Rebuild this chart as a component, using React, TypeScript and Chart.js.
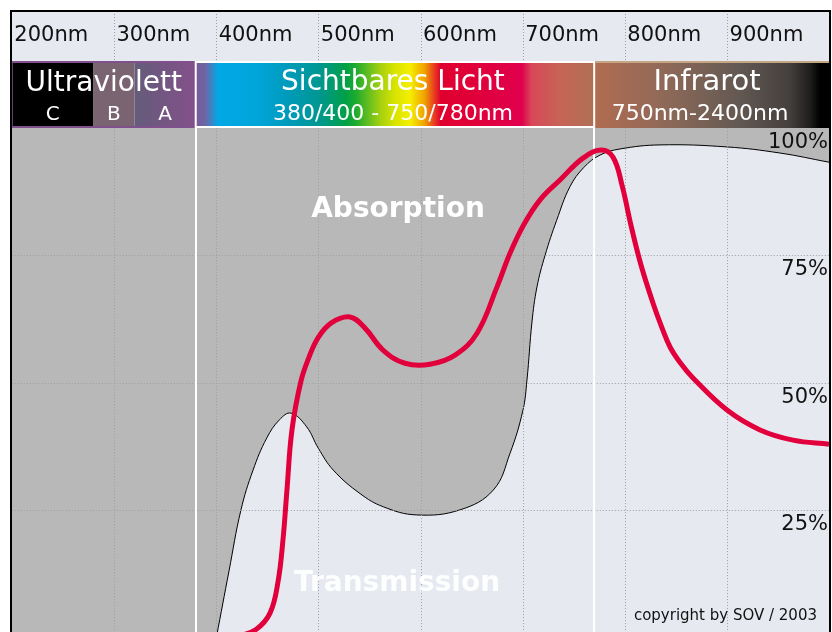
import React, { useEffect, useRef } from "react";
import { Chart, registerables } from "chart.js";

Chart.register(...registerables);

// Wavelength axis ticks (nm)
const axisTicks = [200, 300, 400, 500, 600, 700, 800, 900];
const percentTicks = [100, 75, 50, 25];

// Transmission of the eye media (black curve, %)
const transWavelengths = [400.3, 412.6, 424.3, 436.1, 449.5, 462.0, 473.3, 488.6, 500.0, 514.7, 540.8, 563.6, 596.3, 638.7, 671.3, 687.6, 700.3, 704.2, 709.1, 714.0, 721.9, 733.3, 746.3, 760.0, 775.7, 795.3, 834.4, 900.0, 951.9, 999.8];
const transValues = [0, 13.0, 25.0, 32.8, 39.1, 42.7, 44.0, 41.3, 37.1, 32.8, 28.2, 25.6, 24.0, 25.0, 28.9, 36.1, 44.6, 50.5, 61.9, 68.8, 75.0, 81.9, 88.5, 92.3, 94.7, 95.9, 96.7, 96.3, 95.1, 93.3];

// UV range: no transmission (fully absorbed)
const uvWavelengths = [200, 401];
const uvValues = [0, 0];

// Red curve (%)
const redWavelengths = [419.4, 439.0, 452.7, 460.5, 465.4, 469.3, 474.2, 483.0, 490.9, 499.7, 512.4, 531.0, 545.7, 563.3, 584.8, 609.3, 633.8, 655.3, 674.9, 687.6, 701.3, 717.0, 736.5, 759.0, 776.7, 788.4, 797.2, 806.0, 815.8, 827.6, 835.9, 844.2, 855.0, 866.7, 900.0, 932.3, 964.6, 999.8];
const redValues = [0, 1.5, 4.7, 10.8, 19.1, 28.9, 40.7, 50.3, 55.0, 58.8, 61.7, 62.9, 60.7, 56.4, 53.8, 53.6, 55.4, 59.7, 68.8, 75.4, 81.1, 85.9, 89.8, 94.1, 95.7, 94.3, 88.8, 80.9, 73.1, 65.6, 61.0, 57.0, 53.7, 50.9, 44.6, 40.7, 38.7, 37.9];

// Spectral band boundaries (nm)
const uvStart = 200;
const uvcEnd = 280;
const uvbEnd = 320;
const visStart = 380;
const irStart = 770;
const axisEnd = 1000;

const FONT = "'DejaVu Sans', Verdana, sans-serif";
const LIGHT = "#e7e9f1";
const GRAY = "#b8b8b8";
const GRID = "#9e9e9e";

const visStops: [number, string][] = [
  [0.0, "#7c5894"], [0.026, "#6a68a8"], [0.056, "#00a8e6"], [0.161, "#00a4d8"],
  [0.237, "#009ab8"], [0.312, "#00978f"], [0.375, "#00a048"], [0.4, "#1aaa30"],
  [0.463, "#a4d010"], [0.5, "#d8e400"], [0.538, "#f5ef00"], [0.575, "#f0a000"],
  [0.598, "#e84020"], [0.615, "#e0002e"], [0.713, "#e0003c"], [0.818, "#e0004e"],
  [0.843, "#d84858"], [0.914, "#c66456"], [1.0, "#b07056"],
];
const irStops: [number, string][] = [
  [0.0, "#b06c50"], [0.19, "#9c6a56"], [0.33, "#8a6858"], [0.62, "#625852"],
  [0.83, "#44403e"], [0.92, "#1e1c1c"], [0.96, "#000000"], [1.0, "#000000"],
];

const HEAD_TOP = 11;
const BAND_TOP = 61;
const BAND_BOTTOM = 128;

const toPoints = (xs: number[], ys: number[]) => xs.map((x, i) => ({ x, y: ys[i] }));

export default function App() {
  const ref = useRef<HTMLCanvasElement>(null);

  useEffect(() => {
    document.body.style.margin = "0";
    document.body.style.overflow = "hidden";
    const canvas = ref.current!;

    const plugin = {
      id: "spectrum",
      beforeDraw(chart: any) {
        const { ctx, chartArea, scales } = chart;
        const x0 = scales.x.getPixelForValue(uvStart);
        const x1 = scales.x.getPixelForValue(axisEnd);
        ctx.save();
        ctx.fillStyle = "#ffffff";
        ctx.fillRect(0, 0, chart.width, chart.height);
        ctx.fillStyle = LIGHT;
        ctx.fillRect(x0, HEAD_TOP, x1 - x0, BAND_TOP - HEAD_TOP);
        ctx.fillRect(chartArea.left, chartArea.top, chartArea.right - chartArea.left, chartArea.bottom - chartArea.top);
        ctx.restore();
      },
      afterDatasetDraw(chart: any, args: any) {
        if (args.index !== 1) return;
        const { ctx, chartArea, scales } = chart;
        const xs = scales.x, ys = scales.y;
        ctx.save();
        ctx.strokeStyle = GRID;
        ctx.lineWidth = 1;
        ctx.setLineDash([1, 2]);
        for (const t of axisTicks) {
          if (t === uvStart) continue;
          const x = Math.round(xs.getPixelForValue(t)) + 0.5;
          ctx.beginPath();
          ctx.moveTo(x, chartArea.top);
          ctx.lineTo(x, chartArea.bottom);
          ctx.stroke();
        }
        for (const p of percentTicks) {
          if (p === 100) continue;
          const y = Math.round(ys.getPixelForValue(p)) + 0.5;
          ctx.beginPath();
          ctx.moveTo(chartArea.left, y);
          ctx.lineTo(chartArea.right, y);
          ctx.stroke();
        }
        ctx.setLineDash([]);
        ctx.strokeStyle = "#ffffff";
        ctx.lineWidth = 2;
        for (const b of [visStart, irStart]) {
          const x = Math.round(xs.getPixelForValue(b));
          ctx.beginPath();
          ctx.moveTo(x, chartArea.top);
          ctx.lineTo(x, chartArea.bottom);
          ctx.stroke();
        }
        ctx.font = `bold 28px ${FONT}`;
        ctx.textAlign = "center";
        ctx.textBaseline = "alphabetic";
        ctx.fillStyle = "#ffffff";
        ctx.fillText("Absorption", 398, 217);
        ctx.fillStyle = "rgba(255,255,255,0.92)";
        ctx.fillText("Transmission", 397, 591);
        ctx.restore();
      },
      afterDraw(chart: any) {
        const { ctx, scales } = chart;
        const xs = scales.x, ys = scales.y;
        const px = (v: number) => xs.getPixelForValue(v);
        ctx.save();
        ctx.strokeStyle = GRID;
        ctx.lineWidth = 1;
        ctx.setLineDash([1, 2]);
        for (const t of axisTicks) {
          if (t === uvStart) continue;
          const x = Math.round(px(t)) + 0.5;
          ctx.beginPath();
          ctx.moveTo(x, HEAD_TOP);
          ctx.lineTo(x, BAND_TOP);
          ctx.stroke();
        }
        ctx.setLineDash([]);
        ctx.fillStyle = "#111111";
        ctx.font = `21px ${FONT}`;
        ctx.textAlign = "left";
        ctx.textBaseline = "alphabetic";
        for (const t of axisTicks) {
          ctx.fillText(`${t}nm`, px(t) + 2.5, 41);
        }

        const bh = BAND_BOTTOM - BAND_TOP;
        const uv0 = px(uvStart), uvc = px(uvcEnd), uvb = px(uvbEnd), uv1 = px(visStart);
        ctx.fillStyle = "#000000";
        ctx.fillRect(uv0, BAND_TOP, uvc - uv0, bh);
        ctx.fillStyle = "#7a6472";
        ctx.fillRect(uvc, BAND_TOP, uvb - uvc, bh);
        const gA = ctx.createLinearGradient(uvb, 0, uv1, 0);
        gA.addColorStop(0, "#645c7a");
        gA.addColorStop(1, "#84508a");
        ctx.fillStyle = gA;
        ctx.fillRect(uvb, BAND_TOP, uv1 - uvb, bh);
        ctx.strokeStyle = "#80508c";
        ctx.lineWidth = 2;
        ctx.strokeRect(uv0, BAND_TOP + 1, uv1 - uv0 - 1, bh - 2);

        const v0 = px(visStart), v1 = px(irStart);
        const gV = ctx.createLinearGradient(v0, 0, v1, 0);
        for (const [o, c] of visStops) gV.addColorStop(o, c);
        ctx.fillStyle = gV;
        ctx.fillRect(v0, BAND_TOP, v1 - v0, bh);
        ctx.strokeStyle = "#ffffff";
        ctx.strokeRect(v0, BAND_TOP + 1, v1 - v0, bh - 2);

        const i0 = px(irStart) + 1, i1 = px(axisEnd);
        const gI = ctx.createLinearGradient(i0, 0, i1, 0);
        for (const [o, c] of irStops) gI.addColorStop(o, c);
        ctx.fillStyle = gI;
        ctx.fillRect(i0, BAND_TOP, i1 - i0, bh);
        ctx.strokeStyle = "#c4a684";
        ctx.beginPath();
        ctx.moveTo(i0, BAND_TOP + 1);
        ctx.lineTo(i1, BAND_TOP + 1);
        ctx.stroke();

        ctx.fillStyle = "#ffffff";
        ctx.textAlign = "center";
        ctx.font = `28px ${FONT}`;
        ctx.fillText("Ultraviolett", (uv0 + uv1) / 2, 91);
        ctx.fillText("Sichtbares Licht", (v0 + v1) / 2 - 2, 90);
        ctx.font = `29px ${FONT}`;
        ctx.fillText("Infrarot", 707, 90);
        ctx.font = `20px ${FONT}`;
        ctx.fillText("C", (uv0 + uvc) / 2, 120);
        ctx.fillText("B", (uvc + uvb) / 2, 120);
        ctx.fillText("A", (uvb + uv1) / 2, 120);
        ctx.font = `22px ${FONT}`;
        ctx.fillText("380/400 - 750/780nm", (v0 + v1) / 2 - 2, 120);
        ctx.fillText("750nm-2400nm", 700, 120);

        ctx.fillStyle = "#111111";
        ctx.font = `21px ${FONT}`;
        ctx.textAlign = "right";
        for (const p of percentTicks) {
          ctx.fillText(`${p}%`, 828, ys.getPixelForValue(p) + 20);
        }

        ctx.font = `15px ${FONT}`;
        ctx.fillText("copyright by SOV / 2003", 817, 620);

        ctx.strokeStyle = "#000000";
        ctx.lineWidth = 2;
        ctx.beginPath();
        ctx.moveTo(11, chart.height + 2);
        ctx.lineTo(11, 11);
        ctx.lineTo(830, 11);
        ctx.lineTo(830, chart.height + 2);
        ctx.stroke();
        ctx.restore();
      },
    };

    const chart = new Chart(canvas, {
      type: "line",
      data: {
        datasets: [
          {
            label: "Empfindlichkeit",
            data: toPoints(redWavelengths, redValues),
            borderColor: "#e2003c",
            borderWidth: 5,
            pointRadius: 0,
            fill: false,
            tension: 0.4,
          },
          {
            label: "Transmission",
            data: toPoints(transWavelengths, transValues),
            borderColor: "#000000",
            borderWidth: 1,
            backgroundColor: GRAY,
            pointRadius: 0,
            fill: "end",
            tension: 0.4,
          },
          {
            label: "UV",
            data: toPoints(uvWavelengths, uvValues),
            borderWidth: 0,
            borderColor: GRAY,
            backgroundColor: GRAY,
            pointRadius: 0,
            fill: "end",
            tension: 0,
          },
        ],
      },
      options: {
        responsive: false,
        animation: false,
        events: [],
        layout: { padding: { left: 11.8, right: 2.8, top: 128.1, bottom: 0 } },
        elements: { line: { capBezierPoints: false } },
        scales: {
          x: { type: "linear", min: uvStart, max: axisEnd, display: false },
          y: { type: "linear", min: 1, max: 100, display: false },
        },
        plugins: { legend: { display: false }, tooltip: { enabled: false } },
      },
      plugins: [plugin],
    } as any);
    return () => chart.destroy();
  }, []);

  return (
    <canvas ref={ref} width={832} height={632} style={{ display: "block", width: 832, height: 632 }} />
  );
}
